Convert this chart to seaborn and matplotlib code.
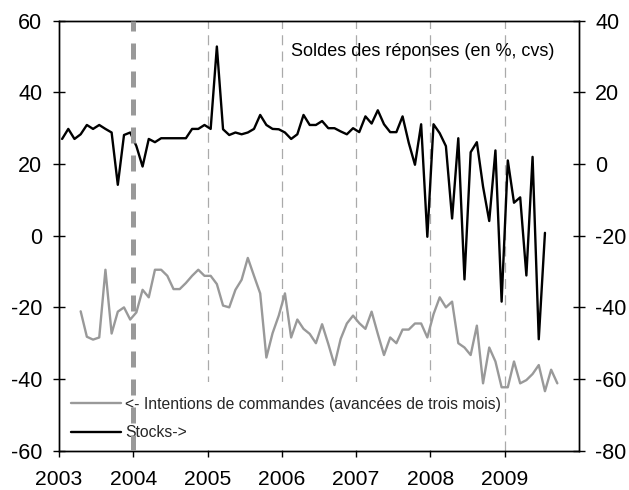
import numpy as np
import pandas as pd
import matplotlib
matplotlib.use("Agg")
import matplotlib.pyplot as plt
import seaborn as sns
from matplotlib.patches import Rectangle
from matplotlib.lines import Line2D

# ---- data (monthly, month index 0 = Jan 2003) ----
stocks_first_month = 0  # Jan 2003, right axis
stocks = [7.0, 9.8, 7.0, 8.3, 10.9, 9.8, 10.9, 9.8, 8.8, -5.8, 8.1, 8.8,
          5.0, -0.7, 7.0, 6.1, 7.2, 7.2, 7.2, 7.2, 7.2, 9.8, 9.8, 10.9,
          9.8, 32.8, 9.7, 8.1, 8.8, 8.3, 8.8, 9.8, 13.7, 10.9, 9.8, 9.7,
          8.8, 7.0, 8.3, 13.7, 10.9, 10.9, 12.0, 10.0, 10.0, 9.1, 8.3, 10.0,
          8.9, 13.3, 11.3, 15.0, 11.1, 8.9, 8.9, 13.3, 5.9, -0.2, 11.1, -20.3,
          11.1, 8.6, 5.0, -15.2, 7.2, -32.2, 3.3, 6.1, -6.3, -15.9, 3.8, -38.4,
          1.0, -10.8, -9.3, -31.1, 2.0, -48.9, -19.2]

intentions_first_month = 3  # Apr 2003, left axis
intentions = [-21.1, -28.2, -29.0, -28.4, -9.5, -27.3, -21.2, -20.0, -23.4,
              -21.4, -15.1, -17.2, -9.5, -9.5, -11.2, -14.9, -14.9, -13.2, -11.2, -9.5, -11.2,
              -11.2, -13.5, -19.5, -20.0, -15.1, -12.3, -6.2, -11.2, -16.1, -34.0, -27.2, -22.3,
              -16.1, -28.4, -23.4, -26.0, -27.4, -30.0, -24.7, -30.2, -36.1, -28.8, -24.5, -22.3,
              -24.4, -26.0, -21.2, -27.4, -33.3, -28.4, -30.0, -26.2, -26.2, -24.5, -24.5, -28.4,
              -21.9, -17.2, -20.0, -18.4, -30.0, -31.2, -33.3, -25.1, -41.2, -31.2, -35.1, -42.3,
              -42.3, -35.1, -41.2, -40.3, -38.6, -36.1, -43.4, -37.4, -41.2]

year_labels = ["2003", "2004", "2005", "2006", "2007", "2008", "2009"]
years = [2003, 2004, 2005, 2006, 2007, 2008, 2009]
left_ticks = [-60, -40, -20, 0, 20, 40, 60]
right_ticks = [-80, -60, -40, -20, 0, 20, 40]
break_year = 2004
year_lines = [2005, 2006, 2007, 2008, 2009]

label_int = "<- Intentions de commandes (avancées de trois mois)"
label_st = "Stocks->"
title = "Soldes des réponses (en %, cvs)"

# ---- frames ----
x_st = 2003 + (np.arange(len(stocks)) + stocks_first_month + 0.5) / 12
x_int = 2003 + (np.arange(len(intentions)) + intentions_first_month + 0.5) / 12
df_st = pd.DataFrame({"date": x_st, "value": stocks})
df_int = pd.DataFrame({"date": x_int, "value": intentions})

sns.set_theme(style="white")
plt.rcParams['font.family'] = ['Liberation Sans', 'DejaVu Sans']

GRAY = "#999999"
fig = plt.figure(figsize=(6.29, 4.90), dpi=100)
ax = fig.add_axes([59 / 629, 1 - 450.7 / 490, (579 - 59) / 629, (450.7 - 20.7) / 490])
ax2 = ax.twinx()

for yr in year_lines:
    ax.axvline(yr, color="#aaaaaa", lw=0.9, ls=(0, (8, 5)), zorder=0)

# legend background (white, covers the thin year lines but not the data)
ax.add_patch(Rectangle((2003.02, -59.8), 5.94, 19.0, facecolor="white",
                       edgecolor="none", zorder=1))

sns.lineplot(data=df_int, x="date", y="value", ax=ax, color=GRAY, lw=1.7, zorder=2)
sns.lineplot(data=df_st, x="date", y="value", ax=ax2, color="black", lw=1.7, zorder=2)

handles = [Line2D([], [], color=GRAY, lw=1.7), Line2D([], [], color="black", lw=1.7)]
leg = ax2.legend(handles, [label_int, label_st], loc="upper left",
                 bbox_to_anchor=(0.0225, 0.126), frameon=False, fontsize=11.3,
                 handlelength=3.2, handletextpad=0.25, labelspacing=0.87,
                 borderpad=0, borderaxespad=0)
leg.set_zorder(5)

ax2.axvline(break_year, color=GRAY, lw=3.6, ls=(0, (3.2, 2.4)), zorder=6)

ax.set_xlim(2003, 2010)
ax.set_ylim(-60, 60)
ax2.set_ylim(-80, 40)
ax.set_xticks(years)
ax.set_xticklabels(year_labels)
ax.set_yticks(left_ticks)
ax.set_yticklabels([str(v) for v in left_ticks])
ax2.set_yticks(right_ticks)
ax2.set_yticklabels([str(v) for v in right_ticks])
for a in (ax, ax2):
    a.set_xlabel("")
    a.set_ylabel("")
    for s in a.spines.values():
        s.set_color("black")
        s.set_linewidth(1.0)

ax.tick_params(axis="y", direction="inout", length=8.6, width=1, labelsize=15.5, pad=7.6,
               colors="black", left=True)
ax.tick_params(axis="x", direction="out", length=4.5, width=1, labelsize=15.2, pad=9.5,
               colors="black", bottom=True)
ax2.tick_params(axis="y", direction="inout", length=8.6, width=1, labelsize=15.5, pad=7.4,
                colors="black", right=True)

ax.text(0.446, 0.9295, title, transform=ax.transAxes, ha="left", va="center",
        fontsize=13, color="black")

fig.savefig("out.png", dpi=100)
